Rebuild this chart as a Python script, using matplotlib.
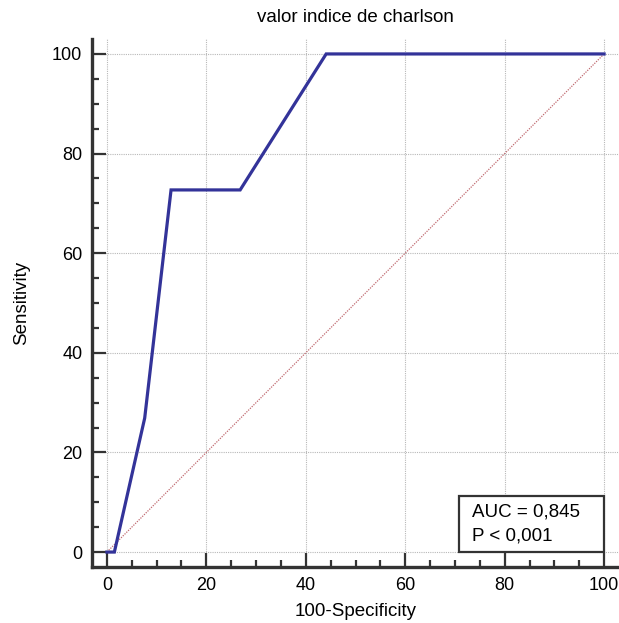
import matplotlib
matplotlib.use("Agg")
import matplotlib.pyplot as plt
from matplotlib.ticker import MultipleLocator
from matplotlib.patches import Rectangle

plt.rcParams['font.family'] = ['Liberation Sans', 'DejaVu Sans']

# ROC curve points (100-Specificity, Sensitivity)
fpr = [0, 1.5, 7.6, 12.9, 26.8, 44.1, 100]
sens = [0, 0, 26.9, 72.7, 72.7, 100, 100]
diag = [0, 100]

title = 'valor indice de charlson'
auc_lines = ['AUC = 0,845', 'P < 0,001']

fig = plt.figure(figsize=(6.19, 6.23), dpi=100)
ax = fig.add_axes([92/619, 56/623, 527/619, 528/623])

ax.plot(diag, diag, color='#c06a70', lw=0.9, ls=(0, (1, 1)), zorder=2)
ax.plot(fpr, sens, color='#333399', lw=2.3, solid_joinstyle='miter', zorder=3)

ax.set_xlim(-3, 103)
ax.set_ylim(-3, 103)
ax.xaxis.set_major_locator(MultipleLocator(20))
ax.yaxis.set_major_locator(MultipleLocator(20))
ax.xaxis.set_minor_locator(MultipleLocator(5))
ax.yaxis.set_minor_locator(MultipleLocator(5))

ax.grid(True, which='major', color='#b8b8b8', ls=(0, (1, 1)), lw=0.8)
for s in ['top', 'right']:
    ax.spines[s].set_visible(False)
for s in ['left', 'bottom']:
    ax.spines[s].set_linewidth(2.4)
    ax.spines[s].set_color('#333333')

ax.tick_params(which='major', direction='in', length=10, width=1.6,
               color='#333333', labelsize=13, pad=7)
ax.tick_params(which='minor', direction='in', length=5, width=1.6,
               color='#333333')

ax.set_title(title, fontsize=13.5, pad=12)
ax.set_xlabel('100-Specificity', fontsize=13.5, labelpad=7)
ax.set_ylabel('Sensitivity', fontsize=13.5, labelpad=16)

# statistics box
ax.add_patch(Rectangle((70.8, 0), 29.2, 11.2, fc='white', ec='#333333',
                       lw=1.6, zorder=5))
ax.text(73.4, 8.0, auc_lines[0], fontsize=13.5, va='center', ha='left', zorder=6)
ax.text(73.4, 3.3, auc_lines[1], fontsize=13.5, va='center', ha='left', zorder=6)

fig.savefig('out.png', dpi=100)
